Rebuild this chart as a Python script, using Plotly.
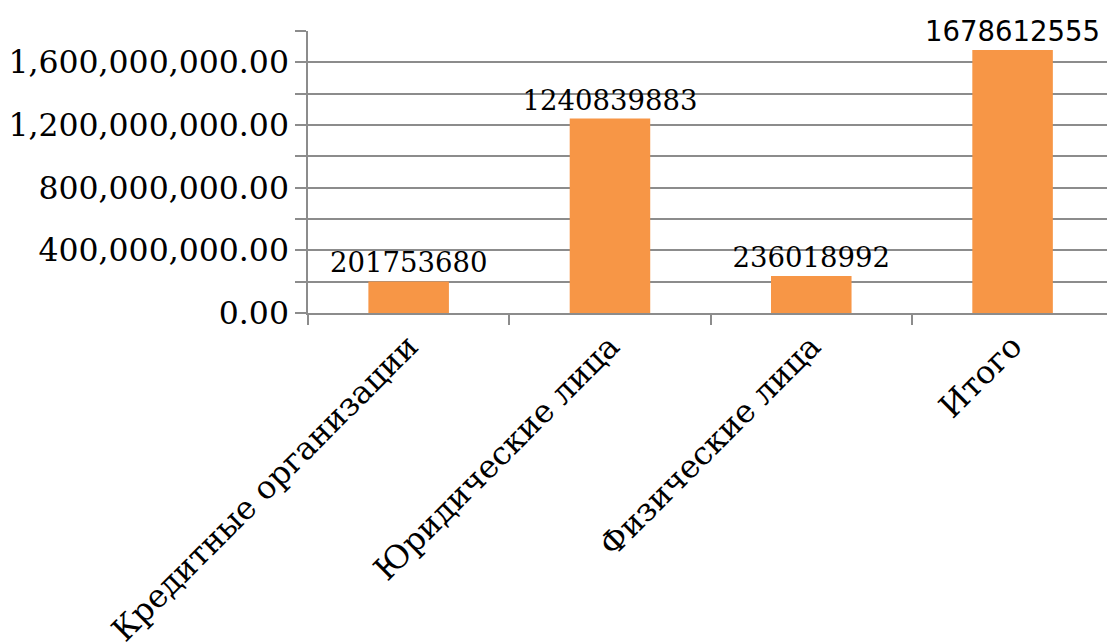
import plotly.graph_objects as go

categories = ["Кредитные организации", "Юридические лица", "Физические лица", "Итого"]
values = [201753680, 1240839883, 236018992, 1678612555]
label_fonts = ["DejaVu Serif", "DejaVu Serif", "DejaVu Serif", "DejaVu Sans"]
y_tickvals = [0, 400000000, 800000000, 1200000000, 1600000000]

fig = go.Figure(go.Bar(
    x=categories, y=values,
    marker=dict(color="#F79646", line=dict(width=0)),
    width=0.4,
    text=[str(v) for v in values],
    textposition="outside",
    constraintext="none",
    textfont=dict(family=label_fonts, size=27.5, color="black"),
    cliponaxis=False,
))

grid = "#8c8c8c"
fig.update_layout(
    width=1107, height=643,
    margin=dict(l=308, r=0, t=31, b=330, autoexpand=False),
    paper_bgcolor="white", plot_bgcolor="white",
    font=dict(family="DejaVu Serif", color="black"),
    showlegend=False,
    bargap=0.6,
)
fig.update_yaxes(
    range=[0, 1800000000],
    tickvals=y_tickvals,
    tickformat=",.2f",
    tickfont=dict(size=31.5, family="DejaVu Serif"),
    showgrid=True, gridcolor=grid, gridwidth=1.5,
    showline=True, linecolor=grid, linewidth=1.5,
    ticks="outside", ticklen=11, tickcolor=grid, tickwidth=1.5,
    minor=dict(dtick=200000000, tick0=0, showgrid=True, gridcolor=grid, gridwidth=1.5,
               ticks="outside", ticklen=11, tickcolor=grid, tickwidth=1.5),
    zeroline=False, automargin=False,
)
fig.update_xaxes(
    range=[-0.5, 3.469],
    tickangle=-45,
    tickfont=dict(size=32, family="DejaVu Serif"),
    showline=True, linecolor=grid, linewidth=1.5,
    ticks="outside", tickson="boundaries", ticklen=10, tickcolor=grid, tickwidth=1.5,
    automargin=False,
)

fig.write_html("out.html")
